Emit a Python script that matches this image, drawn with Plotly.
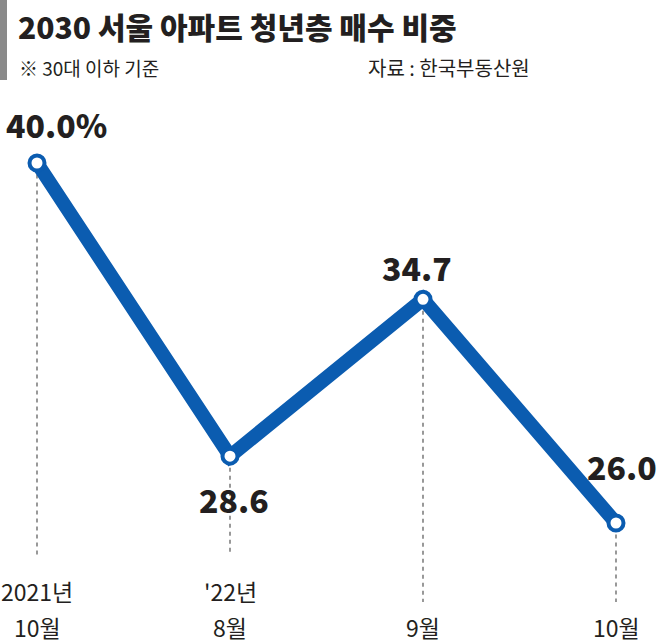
import plotly.graph_objects as go

# Data
periods = ["2021년<br>10월", "'22년<br>8월", "9월", "10월"]
shares = [40.0, 28.6, 34.7, 26.0]
value_labels = ["40.0%", "28.6", "34.7", "26.0"]

title = "2030 서울 아파트 청년층 매수 비중"
note = "※ 30대 이하 기준"
source = "자료 : 한국부동산원"

BLUE = "#0b5cb0"
INK = "#231f20"
FONT = "Noto Sans CJK KR"
W, H = 660, 644
x_idx = list(range(len(shares)))


def px(x):
    return x / W


def py(y):
    return 1 - y / H


fig = go.Figure()

fig.add_trace(go.Scatter(
    x=x_idx, y=shares, mode="lines+markers",
    line=dict(color=BLUE, width=14),
    marker=dict(size=15, color="white", line=dict(color=BLUE, width=4)),
    hoverinfo="skip",
))

# dashed drop lines from points down to the labels
drop_bottom = [24.75, 24.75, 22.93, 22.93]
for i, v in enumerate(shares):
    fig.add_shape(type="line", x0=i, x1=i, y0=v - 0.45, y1=drop_bottom[i],
                  xref="x", yref="y", layer="below",
                  line=dict(color="#555555", width=1.2, dash="4px,4px"))

# value labels
label_offset = [(0.10, 1.5), (0.02, -1.65), (-0.03, 1.25), (0.03, 2.2)]
for i, (v, txt) in enumerate(zip(shares, value_labels)):
    dx, dy = label_offset[i]
    fig.add_annotation(x=i + dx, y=v + dy, text=txt, showarrow=False,
                       xref="x", yref="y",
                       font=dict(family=FONT, size=32, color=INK, weight=900))

# category labels (one annotation per line, bottom line aligned)
for i, p in enumerate(periods):
    lines = p.split("<br>")
    for k, ln in enumerate(reversed(lines)):
        fig.add_annotation(x=i, y=py(627 - 36 * k), yref="paper", xref="x", text=ln,
                           showarrow=False, yanchor="middle",
                           font=dict(family=FONT, size=23, color=INK))

# title block
fig.add_shape(type="rect", x0=0, x1=px(7), y0=py(80), y1=1, xref="paper", yref="paper",
              line=dict(width=0), fillcolor="#8a8a8a", layer="above")
fig.add_annotation(x=px(16), y=py(26), xref="paper", yref="paper", text=title,
                   showarrow=False, xanchor="left", yanchor="middle",
                   font=dict(family=FONT, size=30, color=INK, weight=900))
fig.add_annotation(x=px(17), y=py(68), xref="paper", yref="paper", text=note,
                   showarrow=False, xanchor="left", yanchor="middle",
                   font=dict(family=FONT, size=19, color=INK))
fig.add_annotation(x=px(366), y=py(68), xref="paper", yref="paper", text=source,
                   showarrow=False, xanchor="left", yanchor="middle",
                   font=dict(family=FONT, size=20, color=INK))

fig.update_layout(
    width=W, height=H,
    margin=dict(l=0, r=0, t=0, b=0),
    paper_bgcolor="white", plot_bgcolor="white",
    showlegend=False,
    xaxis=dict(range=[-0.1917, 3.228], visible=False, fixedrange=True),
    yaxis=dict(range=[21.294, 46.339], visible=False, fixedrange=True),
)

fig.write_html("out.html", config={"displayModeBar": False},
               post_script="document.body.style.margin='0';")
